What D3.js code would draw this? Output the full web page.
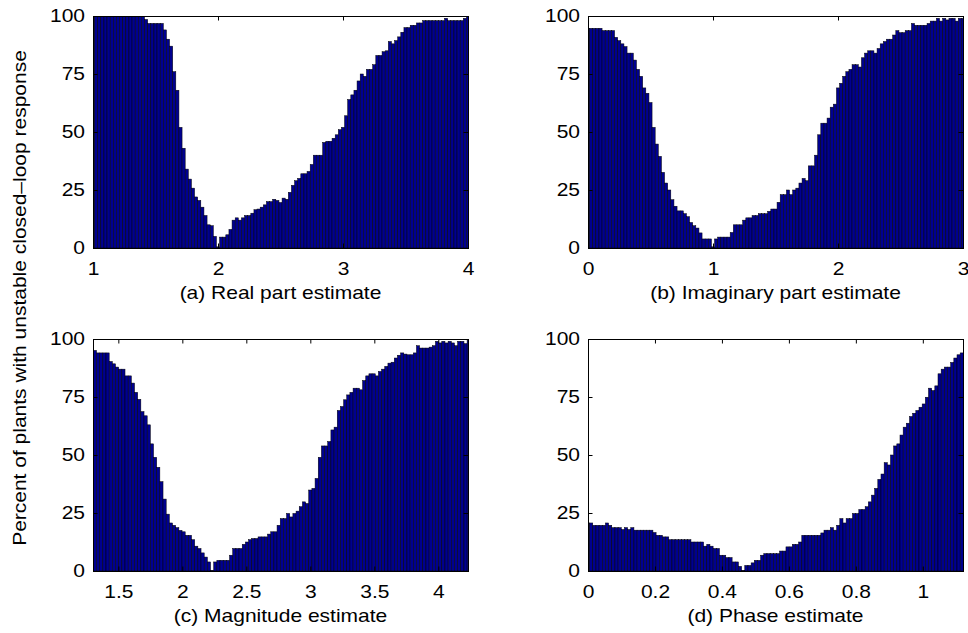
<!DOCTYPE html>
<html>
<head>
<meta charset="utf-8">
<script src="https://cdn.jsdelivr.net/npm/d3@7"></script>
<style>
  body { margin: 0; background: #fff; }
  svg { display: block; }
  text { font-family: "Liberation Sans", Arial, Helvetica, sans-serif; fill: #000; }
</style>
</head>
<body>
<div id="chart"></div>
<script>
// percent of plants with unstable closed-loop response, one value per bin
const realVals = [100,100,100,100,100,100,100,100,100,100,100,100,100,100,100,100,100,98.5,96.8,96.8,96.8,96.8,96.8,
  94,90,87,76,68,52,43,34,29.7,25.8,22,20.5,17.6,14,10,9.6,5,0.5,4.7,4.7,5.7,8,12,13,12,13,14,14,15,16.5,16.8,17.6,18.6,20,20,21,20.5,
  19.6,21.5,21,24,27,29,30,32,32,33,36,40,40,40,45.5,46,46,47.3,48.8,51,52,57,64,66,68,72,75,74,77,77,
  79,83,83,84.6,85,89,88,89.4,91,93,95,95,96,96,97,97,98,98,98,98,98,98,98,99,98,98,98,98,98,99,100];
const imagVals = [94.7,94.7,94.7,94.7,94.7,93.7,93.7,93.7,93.7,90.8,89.4,88,86.8,84,84,81,77,74,69,66.7,62.7,52,44.8,39.5,
  32.6,28,25,20.8,18,16,16,14.8,13.5,11,9.6,8.6,6.5,3.9,3.9,3.9,0.5,3.9,4.7,4.7,4.7,4.7,6.7,10,10,10,12,13,13,14,14,14.8,14.8,14.8,15.8,16.8,
  16.8,19.7,23,23,25,23,25,25.8,28,30,29,35.4,35.4,40,48.8,53.8,53.8,56,60.7,62,69,71,74,76,77,79,79,78,82,84,85,85,84,86,88,89,90,90,
  91.8,93.7,92.8,92.8,93.7,93.7,96.8,96,96,96,96,96.8,97.8,97.8,99,97.8,99,98.3,99,99,97.8,99,99];
const magVals = [95.1,94,94,94,94,90.3,89.3,87.9,87,87,84.1,84.1,81,77,74,68.7,66.9,63,54.8,49,44.7,38.5,31,24.5,20.7,19.7,18.7,17.5,
  16.9,15.4,15.4,13.5,10.7,9.7,7.8,6,3.9,0.3,3.9,4.6,4.6,4.6,4.6,6.8,9.7,9.7,9.7,11.5,12.5,13.5,14,14,14.7,14.7,14.7,15.9,16.9,16.9,19.7,
  22.6,22.6,24.8,23.3,24.8,25.8,27.7,29.8,29.1,34.9,35.6,39.9,49,53.9,53.9,55.8,60.8,62,69.2,70.9,73.8,75.9,77,78.8,78.8,78.1,82.1,
  84.1,85,85,84.1,86,87,88.2,89.6,90,91.8,93,94,93.5,93.2,93.2,94,97.1,96.1,96.1,96.1,96.5,97.1,99,98.3,99,98.3,99,98.3,97.1,99,99,98,99.4];
const phaseVals = [20.7,20.7,19.7,19.7,19.7,19.7,20.7,19.7,18.7,18.7,18.7,17.9,18.7,17.9,18.7,17.6,17.6,17.6,17.6,17.6,17.6,
  16.6,15.4,15.4,14.7,14.7,13.5,13.5,13.5,13.5,13.5,13.5,13.5,12.5,12.5,12.5,12.5,10.7,11.5,10.7,9.7,9.7,6.8,6.8,5.8,5.8,3.9,3.9,2.0,0.3,
  2.4,2.4,3.5,4.6,4.6,6.8,7.5,7.5,7.5,7.5,7.5,8.6,8.6,10.4,10.4,11.5,11.5,12.5,15.4,15.4,15.4,15.4,15.4,15.4,16.4,17.6,17.6,18.7,17.6,
  19.7,22.6,20.7,22.6,22.6,24.8,24.8,26.5,26.5,27.7,29.8,32.7,35.6,39.5,41.8,46.7,45.7,50,53.9,54.8,58.6,62,63.7,66.6,68,69.2,70.6,72,
  74.9,78.8,77.8,79.8,85,87,87.9,87.9,89.9,91.8,93.2,94];

// bin centres: first centre and spacing of each estimate grid
const realBins = [1, 0.025];
const imagBins = [0, 0.025];
const magBins = [1.317, 0.02475];
const phaseBins = [0, 0.00946];

const realTicks = [1, 2, 3, 4];
const imagTicks = [0, 1, 2, 3];
const magTicks = [1.5, 2, 2.5, 3, 3.5, 4];
const phaseTicks = [0, 0.2, 0.4, 0.6, 0.8, 1];
const yTicks = [0, 25, 50, 75, 100];

const captions = ["(a) Real part estimate", "(b) Imaginary part estimate", "(c) Magnitude estimate", "(d) Phase estimate"];
const yTitle = "Percent of plants with unstable closed\u2013loop response";

const width = 968, height = 633;
const stretch = 1.2;   // the original glyphs are wider than Liberation Sans
const fontSize = 17.5;

const svg = d3.select("#chart").append("svg")
    .attr("width", width)
    .attr("height", height);

const panels = [
  {vals: realVals, bins: realBins, ticks: realTicks, domain: [1, 4], x0: 93, x1: 468, y0: 16, y1: 248},
  {vals: imagVals, bins: imagBins, ticks: imagTicks, domain: [0, 3], x0: 588, x1: 963, y0: 16, y1: 248},
  {vals: magVals, bins: magBins, ticks: magTicks, domain: [1.302, 4.232], x0: 93, x1: 468, y0: 339, y1: 571},
  {vals: phaseVals, bins: phaseBins, ticks: phaseTicks, domain: [0, 1.12], x0: 588, x1: 963, y0: 339, y1: 571}
];

panels.forEach((p, k) => {
  const xScale = d3.scaleLinear().domain(p.domain).range([p.x0, p.x1]);
  const yScale = d3.scaleLinear().domain([0, 100]).range([p.y1, p.y0]);
  const step = p.bins[1];
  const barW = xScale(p.bins[0] + step) - xScale(p.bins[0]);

  svg.append("clipPath").attr("id", "clip" + k)
    .append("rect")
      .attr("x", p.x0).attr("y", p.y0)
      .attr("width", p.x1 - p.x0).attr("height", p.y1 - p.y0);

  // bars
  svg.append("g")
      .attr("clip-path", "url(#clip" + k + ")")
    .selectAll("rect")
    .data(p.vals)
    .enter()
    .append("rect")
      .attr("x", (d, i) => xScale(p.bins[0] + i * step) - barW / 2)
      .attr("y", d => yScale(d))
      .attr("width", barW)
      .attr("height", d => p.y1 - yScale(d))
      .attr("fill", "#00008f")
      .attr("stroke", "#000")
      .attr("stroke-width", 0.5);

  // bottom axis with labels, ticks pointing inward
  const gx = svg.append("g")
      .attr("transform", "translate(0," + p.y1 + ")")
      .call(d3.axisBottom(xScale).tickValues(p.ticks).tickFormat(d3.format("~g"))
        .tickSizeInner(-4.5).tickSizeOuter(0).tickPadding(15));
  // top ticks
  const gt = svg.append("g")
      .attr("transform", "translate(0," + p.y0 + ")")
      .call(d3.axisTop(xScale).tickValues(p.ticks).tickFormat("")
        .tickSizeInner(-4.5).tickSizeOuter(0));
  // left axis with labels
  const gy = svg.append("g")
      .attr("transform", "translate(" + p.x0 + ",0)")
      .call(d3.axisLeft(yScale).tickValues(yTicks)
        .tickSizeInner(-4.5).tickSizeOuter(0).tickPadding(8 / stretch));
  // right ticks
  const gr = svg.append("g")
      .attr("transform", "translate(" + p.x1 + ",0)")
      .call(d3.axisRight(yScale).tickValues(yTicks).tickFormat("")
        .tickSizeInner(-4.5).tickSizeOuter(0));

  [gx, gt, gy, gr].forEach(g => {
    g.select(".domain").remove();
    g.selectAll(".tick line").attr("stroke", "#000").attr("stroke-width", 1);
    g.selectAll("text")
      .attr("font-family", "Liberation Sans, Arial, sans-serif")
      .attr("font-size", fontSize)
      .attr("fill", "#000")
      .attr("transform", "scale(" + stretch + ",1)");
  });

  // frame
  svg.append("rect")
      .attr("x", p.x0).attr("y", p.y0)
      .attr("width", p.x1 - p.x0).attr("height", p.y1 - p.y0)
      .attr("fill", "none")
      .attr("stroke", "#000")
      .attr("stroke-width", 1)
      .attr("shape-rendering", "crispEdges");

  // caption under each panel
  svg.append("text")
      .attr("transform", "translate(" + ((p.x0 + p.x1) / 2) + "," + (p.y1 + 50.5) + ") scale(" + stretch + ",1)")
      .attr("text-anchor", "middle")
      .style("font-size", fontSize + "px")
      .text(captions[k]);
});

// shared y axis title
svg.append("text")
    .attr("transform", "translate(26,298) rotate(-90) scale(" + stretch + ",1)")
    .attr("text-anchor", "middle")
    .style("font-size", fontSize + "px")
    .text(yTitle);
</script>
</body>
</html>
